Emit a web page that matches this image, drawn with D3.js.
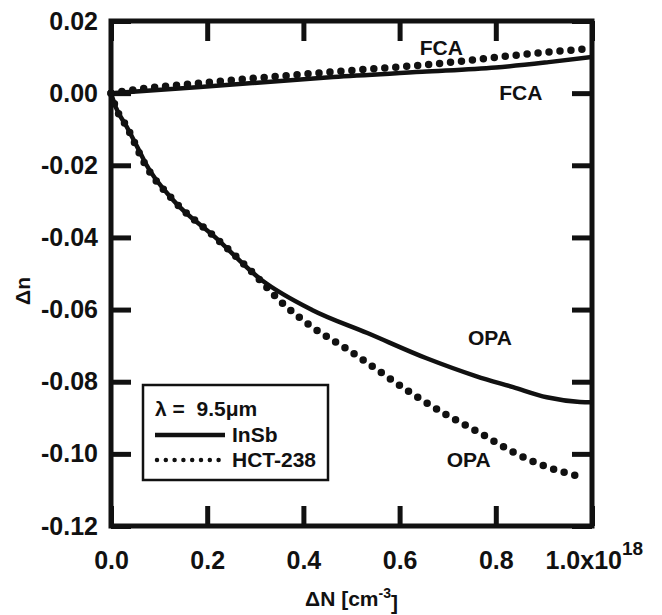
<!DOCTYPE html>
<html lang="en">
<head>
    <meta charset="UTF-8">
    <title>Refractive index change vs carrier density</title>
    <script src="https://d3js.org/d3.v7.min.js"></script>
    <style>
        body { margin: 0; background: #fff; }
        text {
            font-family: "Liberation Sans", Arial, sans-serif;
            font-weight: bold;
            fill: #111;
            white-space: pre;
        }
        .domain { display: none; }
        .tick line { stroke: #111; stroke-width: 5px; }
    </style>
</head>
<body>
    <script>
        // Free-carrier absorption branch (positive Δn)
        const fcaInsbN = [0, 0.185, 0.296, 0.462, 0.647, 0.8, 0.91, 1.0];
        const fcaInsbDn = [0, 0.0017, 0.0028, 0.0045, 0.0059, 0.0071, 0.0086, 0.0100];
        const fcaHctN = [0, 0.046, 0.185, 0.296, 0.462, 0.647, 0.91, 1.0];
        const fcaHctDn = [0, 0.0009, 0.0028, 0.0041, 0.0059, 0.0078, 0.0114, 0.0124];

        // Optical absorption branch (negative Δn)
        const opaInsbN = [0, 0.01, 0.033, 0.058, 0.072, 0.129, 0.217, 0.313, 0.418, 0.533, 0.656, 0.76, 0.836, 0.906, 0.975, 1.0];
        const opaInsbDn = [0, -0.0039, -0.0094, -0.0158, -0.0195, -0.0296, -0.040, -0.0518, -0.0601, -0.0665, -0.0735, -0.0785, -0.0815, -0.0843, -0.0856, -0.0857];
        const opaHctN = [0, 0.01, 0.033, 0.072, 0.129, 0.217, 0.3, 0.349, 0.418, 0.489, 0.559, 0.628, 0.698, 0.767, 0.836, 0.906, 0.985];
        const opaHctDn = [0, -0.004, -0.0094, -0.02, -0.0296, -0.040, -0.0505, -0.0573, -0.0648, -0.0708, -0.0772, -0.0835, -0.0892, -0.0942, -0.0995, -0.1036, -0.1066];

        const xTicks = [0, 0.2, 0.4, 0.6, 0.8, 1.0];
        const yTicks = [0.02, 0.00, -0.02, -0.04, -0.06, -0.08, -0.10, -0.12];

        const width = 662;
        const height = 615;
        const margin = { top: 21, right: 70, bottom: 89, left: 111 };
        const innerW = width - margin.left - margin.right;
        const innerH = height - margin.top - margin.bottom;

        const svg = d3.select("body")
            .append("svg")
            .attr("width", width)
            .attr("height", height);

        const g = svg.append("g")
            .attr("transform", `translate(${margin.left},${margin.top})`);

        const x = d3.scaleLinear().domain([0, 1.0]).range([0, innerW]);
        const y = d3.scaleLinear().domain([-0.12, 0.02]).range([innerH, 0]);

        // plain hyphen for negatives, like the original figure
        const fmt = p => d => d3.format(p)(d).replace("\u2212", "-");

        // Axes with inward ticks
        const xAxis = g.append("g")
            .attr("transform", `translate(0,${innerH})`)
            .call(d3.axisBottom(x).tickValues(xTicks).tickSize(-20).tickPadding(25)
                .tickFormat(fmt(".1f")));
        xAxis.selectAll("text").style("font-size", "25px");
        // last label carries the exponent
        const lastX = xAxis.selectAll(".tick text").filter(d => d === 1.0);
        lastX.text(null).attr("text-anchor", "start").attr("x", -47);
        lastX.append("tspan").text("1.0x10");
        lastX.append("tspan").text("18").attr("dy", "-0.7em").style("font-size", "19px");

        g.append("g")
            .call(d3.axisTop(x).tickValues(xTicks).tickSize(-20).tickFormat(""));

        const yAxis = g.append("g")
            .call(d3.axisLeft(y).tickValues(yTicks).tickSize(-20).tickPadding(13)
                .tickFormat(fmt(".2f")));
        yAxis.selectAll("text").style("font-size", "25px");

        g.append("g")
            .attr("transform", `translate(${innerW},0)`)
            .call(d3.axisRight(y).tickValues(yTicks).tickSize(-20).tickFormat(""));

        // Frame
        g.append("rect")
            .attr("width", innerW)
            .attr("height", innerH)
            .attr("fill", "none")
            .attr("stroke", "#111")
            .attr("stroke-width", 5);

        // Curves
        const line = d3.line()
            .x(d => x(d[0]))
            .y(d => y(d[1]))
            .curve(d3.curveMonotoneX);

        const solid = [d3.zip(fcaInsbN, fcaInsbDn), d3.zip(opaInsbN, opaInsbDn)];
        const dotted = [d3.zip(fcaHctN, fcaHctDn), d3.zip(opaHctN, opaHctDn)];

        g.selectAll(".insb")
            .data(solid)
            .enter()
            .append("path")
            .attr("class", "insb")
            .attr("d", line)
            .attr("fill", "none")
            .attr("stroke", "#111")
            .attr("stroke-width", 4.5);

        g.selectAll(".hct")
            .data(dotted)
            .enter()
            .append("path")
            .attr("class", "hct")
            .attr("d", line)
            .attr("fill", "none")
            .attr("stroke", "#111")
            .attr("stroke-width", 7.5)
            .attr("stroke-linecap", "round")
            .attr("stroke-dasharray", "0 11");

        // Region labels
        const notes = [
            { t: "FCA", n: 0.642, dn: 0.0106 },
            { t: "FCA", n: 0.807, dn: -0.0019 },
            { t: "OPA", n: 0.742, dn: -0.0698 },
            { t: "OPA", n: 0.698, dn: -0.1036 }
        ];
        g.selectAll(".note")
            .data(notes)
            .enter()
            .append("text")
            .attr("class", "note")
            .attr("x", d => x(d.n))
            .attr("y", d => y(d.dn))
            .style("font-size", "21px")
            .text(d => d.t);

        // Axis titles
        svg.append("text")
            .attr("transform", "translate(30,291) rotate(-90)")
            .attr("text-anchor", "middle")
            .style("font-size", "21px")
            .text("Δn");

        const xt = svg.append("text")
            .attr("x", margin.left + innerW / 2)
            .attr("y", 606)
            .attr("text-anchor", "middle")
            .style("font-size", "21px");
        xt.append("tspan").text("ΔN [cm");
        xt.append("tspan").text("-3").attr("dy", "-0.6em").style("font-size", "14px");
        xt.append("tspan").text("]").attr("dy", "0.6em");

        // Legend
        const lg = svg.append("g").attr("transform", "translate(143,385)");
        lg.append("rect")
            .attr("width", 185)
            .attr("height", 95)
            .attr("fill", "#fff")
            .attr("stroke", "#111")
            .attr("stroke-width", 2.5);
        lg.append("text").attr("x", 12).attr("y", 31).style("font-size", "21px").text("λ =  9.5μm");
        lg.append("line")
            .attr("x1", 12).attr("x2", 82).attr("y1", 50).attr("y2", 50)
            .attr("stroke", "#111").attr("stroke-width", 4.5);
        lg.append("text").attr("x", 89).attr("y", 57).style("font-size", "21px").text("InSb");
        lg.append("line")
            .attr("x1", 14).attr("x2", 76).attr("y1", 75).attr("y2", 75)
            .attr("stroke", "#111").attr("stroke-width", 4.5)
            .attr("stroke-linecap", "round").attr("stroke-dasharray", "0 8.8");
        lg.append("text").attr("x", 89).attr("y", 82).style("font-size", "21px").text("HCT-238");
    </script>
</body>
</html>
